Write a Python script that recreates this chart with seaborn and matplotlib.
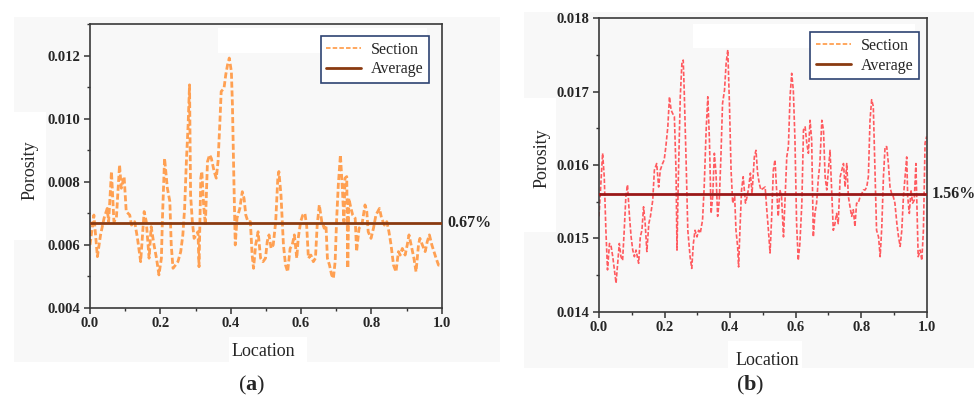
import numpy as np
import pandas as pd
import matplotlib
matplotlib.use('Agg')
import matplotlib.pyplot as plt
import matplotlib.transforms as mtransforms
import seaborn as sns
from matplotlib.patches import Rectangle
from matplotlib.lines import Line2D
from matplotlib.ticker import MultipleLocator, FormatStrFormatter

# ── data (porosity in per mille) ──────────────────────────────
loc_a = [0.000, 0.011, 0.021, 0.030, 0.040, 0.049, 0.053, 0.061, 0.068, 0.075,
         0.084, 0.089, 0.097, 0.103, 0.113, 0.118, 0.127, 0.135, 0.144, 0.154,
         0.160, 0.168, 0.174, 0.182, 0.189, 0.196, 0.203, 0.206, 0.212, 0.220,
         0.227, 0.231, 0.236, 0.243, 0.250, 0.258, 0.264, 0.269, 0.274, 0.279,
         0.283, 0.286, 0.291, 0.296, 0.302, 0.307, 0.310, 0.315, 0.318, 0.323,
         0.328, 0.334, 0.340, 0.345, 0.353, 0.359, 0.364, 0.369, 0.373, 0.381,
         0.386, 0.391, 0.396, 0.402, 0.405, 0.409, 0.413, 0.418, 0.426, 0.433,
         0.438, 0.443, 0.449, 0.456, 0.461, 0.465, 0.471, 0.478, 0.485, 0.492,
         0.499, 0.504, 0.509, 0.515, 0.521, 0.528, 0.534, 0.537, 0.543, 0.550,
         0.556, 0.562, 0.569, 0.575, 0.581, 0.588, 0.592, 0.599, 0.605, 0.611,
         0.616, 0.621, 0.628, 0.635, 0.641, 0.646, 0.652, 0.659, 0.666, 0.671,
         0.675, 0.681, 0.687, 0.692, 0.697, 0.701, 0.706, 0.712, 0.718, 0.722,
         0.725, 0.730, 0.733, 0.736, 0.742, 0.747, 0.754, 0.758, 0.765, 0.773,
         0.782, 0.787, 0.791, 0.799, 0.806, 0.813, 0.823, 0.829, 0.837, 0.844,
         0.850, 0.856, 0.863, 0.870, 0.877, 0.882, 0.888, 0.896, 0.902, 0.907,
         0.915, 0.921, 0.927, 0.934, 0.938, 0.945, 0.953, 0.959, 0.965, 0.972,
         0.978, 0.984, 0.991, 1.000]
por_a = [5.99, 6.94, 5.62, 6.31, 6.84, 7.15, 6.73, 8.32, 6.73, 6.84,
         8.53, 7.79, 8.16, 7.05, 6.94, 6.62, 6.73, 6.20, 5.46, 7.05,
         6.73, 5.57, 6.57, 5.99, 5.57, 5.04, 5.57, 6.84, 8.74, 7.79,
         7.37, 5.99, 5.25, 5.35, 5.46, 5.78, 6.31, 7.15, 8.63, 9.80,
         11.07, 7.58, 6.73, 6.20, 6.31, 6.41, 5.30, 8.11, 8.32, 7.26,
         6.62, 8.63, 8.85, 8.74, 8.32, 8.11, 8.63, 9.80, 10.86, 10.96,
         11.39, 11.70, 11.92, 11.49, 10.43, 8.11, 5.99, 6.84, 7.15, 7.68,
         7.47, 6.94, 6.73, 6.73, 5.67, 5.25, 5.99, 6.41, 5.57, 5.46,
         5.57, 6.10, 6.31, 5.88, 5.99, 6.73, 8.11, 8.32, 7.58, 5.99,
         5.35, 5.14, 5.88, 5.99, 6.31, 5.57, 6.20, 6.73, 6.94, 6.99,
         6.62, 5.57, 5.67, 5.46, 5.57, 6.62, 7.26, 6.73, 6.52, 6.62,
         5.57, 5.35, 5.04, 4.93, 5.46, 6.73, 7.89, 8.85, 7.68, 6.73,
         8.11, 8.16, 5.25, 7.47, 7.15, 6.94, 6.84, 5.78, 6.52, 6.62,
         7.26, 7.05, 6.41, 6.20, 6.52, 6.94, 7.15, 6.84, 6.62, 6.73,
         6.41, 5.99, 5.35, 5.14, 5.78, 5.67, 5.88, 5.67, 5.99, 6.31,
         5.88, 5.57, 5.14, 5.99, 6.20, 5.99, 5.78, 6.10, 6.31, 5.99,
         5.78, 5.57, 5.35, 5.35]

loc_b = [0.000, 0.005, 0.011, 0.016, 0.021, 0.026, 0.032, 0.037, 0.042, 0.047,
         0.052, 0.057, 0.062, 0.067, 0.072, 0.077, 0.082, 0.087, 0.093, 0.098,
         0.103, 0.108, 0.113, 0.121, 0.126, 0.131, 0.136, 0.141, 0.146, 0.152,
         0.157, 0.164, 0.169, 0.176, 0.182, 0.187, 0.194, 0.199, 0.204, 0.210,
         0.215, 0.220, 0.225, 0.230, 0.235, 0.238, 0.242, 0.248, 0.253, 0.257,
         0.260, 0.266, 0.271, 0.278, 0.283, 0.288, 0.293, 0.299, 0.304, 0.309,
         0.316, 0.321, 0.327, 0.332, 0.337, 0.342, 0.347, 0.352, 0.357, 0.362,
         0.367, 0.372, 0.377, 0.383, 0.388, 0.393, 0.398, 0.403, 0.408, 0.414,
         0.418, 0.423, 0.426, 0.430, 0.435, 0.440, 0.447, 0.452, 0.457, 0.462,
         0.467, 0.474, 0.479, 0.484, 0.489, 0.494,
         0.507, 0.512, 0.517, 0.522, 0.527, 0.532, 0.537, 0.542, 0.547, 0.552,
         0.557, 0.563, 0.568, 0.573, 0.578, 0.583, 0.588, 0.593, 0.598, 0.603,
         0.608, 0.613, 0.619, 0.624, 0.629, 0.634, 0.639, 0.644, 0.649, 0.654,
         0.659, 0.664, 0.669, 0.674, 0.680, 0.685, 0.690, 0.695, 0.700, 0.705,
         0.710, 0.715, 0.720, 0.725, 0.730, 0.736, 0.741, 0.746, 0.751, 0.756,
         0.761, 0.766, 0.771, 0.776, 0.781, 0.786, 0.791, 0.797, 0.802, 0.807,
         0.812, 0.817, 0.822, 0.827, 0.832, 0.837, 0.842, 0.847, 0.853, 0.858,
         0.863, 0.868, 0.873, 0.878, 0.883, 0.888, 0.893, 0.898, 0.903, 0.909,
         0.914, 0.919, 0.924, 0.929, 0.934, 0.939, 0.942, 0.947, 0.952, 0.957,
         0.962, 0.967, 0.971, 0.974, 0.980, 0.985, 0.990, 0.995, 1.000]
por_b = [15.30, 15.70, 16.16, 15.84, 15.11, 14.57, 14.93, 14.89, 14.75, 14.57,
         14.39, 14.66, 14.93, 14.75, 14.70, 15.11, 15.57, 15.73, 15.30, 15.02,
         14.84, 14.75, 14.84, 14.66, 15.02, 15.11, 15.43, 15.20, 14.82, 15.20,
         15.30, 15.52, 15.93, 16.02, 15.70, 15.93, 16.02, 16.07, 16.25, 16.52,
         16.93, 16.75, 16.70, 16.66, 15.93, 14.84, 15.80, 16.93, 17.39, 17.43,
         17.02, 16.02, 15.11, 14.75, 14.59, 14.93, 15.11, 15.02, 15.11, 15.07,
         15.25, 15.70, 16.48, 16.93, 16.34, 15.34, 15.57, 16.16, 15.89, 15.30,
         15.52, 16.11, 16.84, 17.02, 17.39, 17.57, 16.84, 15.93, 15.48, 15.57,
         15.11, 14.89, 14.61, 15.11, 15.66, 15.84, 15.48, 15.57, 15.70, 15.89,
         15.61, 16.11, 16.20, 15.89, 15.75, 15.66,
         15.70, 15.39, 15.11, 14.80, 15.30, 15.93, 16.07, 15.66, 15.30, 15.66,
         15.57, 15.02, 15.57, 16.11, 16.25, 16.93, 17.25, 17.02, 16.34, 15.20,
         14.70, 14.93, 15.48, 16.48, 16.52, 16.30, 16.16, 16.61, 16.34, 15.02,
         15.34, 15.48, 15.80, 16.02, 16.61, 16.48, 15.84, 15.66, 15.93, 16.20,
         15.66, 15.11, 15.20, 15.34, 15.20, 15.84, 15.93, 16.02, 15.70, 16.02,
         15.57, 15.43, 15.30, 15.39, 15.16, 15.48, 15.48, 15.57, 15.61, 15.66,
         15.66, 15.70, 15.84, 16.61, 16.89, 16.80, 15.93, 15.11, 15.02, 14.75,
         15.16, 15.84, 16.25, 16.25, 16.02, 15.70, 15.61, 15.57, 15.48, 15.20,
         15.02, 14.89, 15.11, 15.57, 15.84, 16.11, 15.57, 15.34, 15.66, 15.48,
         15.52, 16.02, 15.30, 14.75, 14.84, 14.70, 15.11, 16.30, 16.39]

avg_a = 0.0067
avg_b = 0.0156
avg_labels = ['0.67%', '1.56%']
panel_labels = ['a', 'b']

df_a = pd.DataFrame({'Location': loc_a, 'Porosity': np.array(por_a) / 1000})
df_b = pd.DataFrame({'Location': loc_b, 'Porosity': np.array(por_b) / 1000})

# ── style ─────────────────────────────────────────────────────
sns.set_style('ticks')
plt.rcParams['font.family'] = ['Liberation Serif', 'DejaVu Serif']
plt.rcParams['mathtext.fontset'] = 'custom'
plt.rcParams['mathtext.rm'] = 'Liberation Serif'
plt.rcParams['mathtext.bf'] = 'Liberation Serif:bold'

W, H = 974, 399
fig = plt.figure(figsize=(W / 100, H / 100), dpi=100)
fig.patch.set_facecolor('white')


def px_rect(x0, y0, x1, y1, color, z):
    fig.add_artist(Rectangle((x0 / W, 1 - y1 / H), (x1 - x0) / W, (y1 - y0) / H,
                             transform=fig.transFigure, facecolor=color,
                             edgecolor='none', zorder=z))


# grey backdrop panels with the white patches of the original
px_rect(14, 17, 500, 362, '#f8f8f8', -2)
px_rect(524, 12, 974, 368, '#f8f8f8', -2)
for r in [(218, 28, 427, 53), (14, 112, 46, 240), (229, 337, 307, 362),
          (693, 24, 915, 48), (524, 98, 556, 232), (728, 341, 802, 368)]:
    px_rect(*r, 'white', -1)

ax_a = fig.add_axes([90 / W, 1 - 307.7 / H, 351.7 / W, 283.7 / H])
ax_b = fig.add_axes([599 / W, 1 - 311.7 / H, 327.7 / W, 293.4 / H])

panels = [
    dict(ax=ax_a, df=df_a, avg=avg_a, line='#ffa052', avgc='#8a3a10', lw=2.0,
         dash=(2.2, 1.0), ylim=(0.004, 0.013), ymaj=0.002, ymin=0.001,
         ylab=(-0.171, 0.485), xlab=(0.492, -0.153), leg=(0.964, 0.958),
         txt=avg_labels[0], px=252, lbl=panel_labels[0]),
    dict(ax=ax_b, df=df_b, avg=avg_b, line='#ff5a5f', avgc='#9a1818', lw=1.2,
         dash=(2.6, 1.2), ylim=(0.014, 0.018), ymaj=0.001, ymin=0.0005,
         ylab=(-0.174, 0.524), xlab=(0.513, -0.165), leg=(0.9765, 0.953),
         txt=avg_labels[1], px=750, lbl=panel_labels[1]),
]

for p in panels:
    ax = p['ax']
    ax.set_facecolor('none')
    sns.lineplot(data=p['df'], x='Location', y='Porosity', ax=ax, color=p['line'],
                 lw=p['lw'], sort=False, estimator=None)
    ax.lines[0].set_dashes(p['dash'])
    ax.axhline(p['avg'], color=p['avgc'], lw=2.0, zorder=3)

    ax.set_xlim(0, 1)
    ax.set_ylim(*p['ylim'])
    ax.xaxis.set_major_locator(MultipleLocator(0.2))
    ax.xaxis.set_minor_locator(MultipleLocator(0.1))
    ax.yaxis.set_major_locator(MultipleLocator(p['ymaj']))
    ax.yaxis.set_minor_locator(MultipleLocator(p['ymin']))
    ax.xaxis.set_major_formatter(FormatStrFormatter('%.1f'))
    ax.yaxis.set_major_formatter(FormatStrFormatter('%.3f'))
    ax.tick_params(which='major', direction='out', length=4, width=1.1,
                   color='#333333', labelsize=10.5, pad=3)
    ax.tick_params(which='minor', direction='out', length=2.5, width=1.0,
                   color='#333333')
    for lab in ax.get_xticklabels() + ax.get_yticklabels():
        lab.set_fontweight('bold')
    for s in ax.spines.values():
        s.set_visible(True)
        s.set_color('#3a3a3a')
        s.set_linewidth(1.2)

    ax.set_xlabel('Location', fontsize=13, va='center')
    ax.set_ylabel('Porosity', fontsize=13, va='center')
    ax.xaxis.set_label_coords(*p['xlab'])
    ax.yaxis.set_label_coords(*p['ylab'])

    handles = [Line2D([], [], color='#ffa052', lw=1.3, dashes=(2.5, 1.2)),
               Line2D([], [], color='#8a3a10', lw=2.0)]
    leg = ax.legend(handles, ['Section', 'Average'], loc='upper right',
                    bbox_to_anchor=p['leg'], borderaxespad=0, fancybox=False,
                    framealpha=1, fontsize=11.5, handlelength=2.2,
                    handletextpad=0.6, labelspacing=0.25, borderpad=0.35)
    leg.get_frame().set_edgecolor('#2e4372')
    leg.get_frame().set_linewidth(1.2)

    trans = mtransforms.blended_transform_factory(ax.transAxes, ax.transData)
    ax.text(1.015, p['avg'], p['txt'], transform=trans, ha='left', va='center',
            fontsize=11.5, fontweight='bold', clip_on=False)

    fig.text(p['px'] / W, 1 - 385 / H, '($\\mathbf{' + p['lbl'] + '}$)',
             ha='center', va='center', fontsize=16)

fig.savefig('out.png', dpi=100)
